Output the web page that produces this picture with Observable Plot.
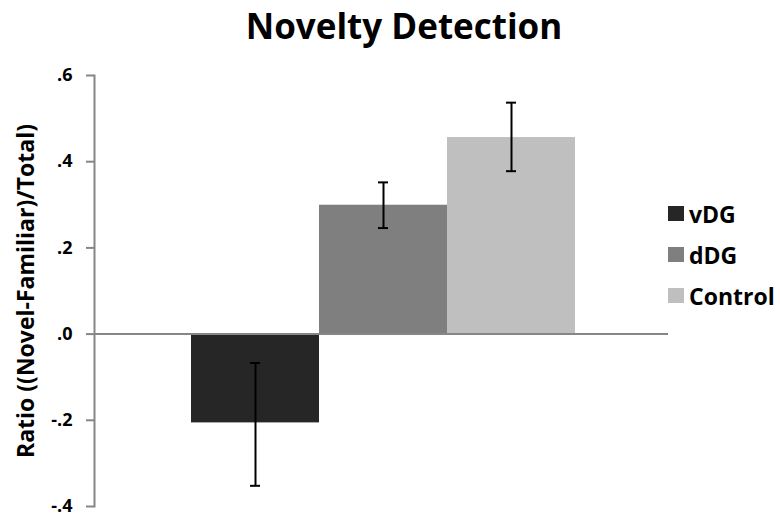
<!DOCTYPE html>
<html>
<head>
<meta charset="utf-8">
<script src="https://cdn.jsdelivr.net/npm/d3@7"></script>
<script src="https://cdn.jsdelivr.net/npm/@observablehq/plot@0.6"></script>
<style>
  body { margin: 0; background: #fff; font-family: "Open Sans", sans-serif; }
  #wrap { position: relative; width: 780px; height: 519px; }
  #title { position: absolute; left: 0; width: 808px; top: 2px; text-align: center; font-size: 35px; font-weight: bold; color: #000; }
  #legend { position: absolute; left: 668px; top: 193px; }
  .item { display: flex; align-items: center; height: 41px; font-size: 23px; font-weight: bold; color: #000; }
  .sw { width: 16px; height: 15px; margin-right: 5px; }
</style>
</head>
<body>
<div id="wrap">
  <div id="chart"></div>
  <div id="title">Novelty Detection</div>
  <div id="legend"></div>
</div>
<script>
const groups = ["vDG", "dDG", "Control"];
const means = [-0.206, 0.299, 0.456];
const errLow = [-0.352, 0.246, 0.378];
const errHigh = [-0.067, 0.352, 0.537];
const colors = ["#262626", "#7f7f7f", "#bfbfbf"];
const yTicks = [-0.4, -0.2, 0, 0.2, 0.4, 0.6];
const yLabel = "Ratio ((Novel-Familiar)/Total)";

const data = groups.map((g, i) => ({group: g, mean: means[i], lo: errLow[i], hi: errHigh[i], color: colors[i]}));
const fmt = d => d.toFixed(1).replace("0.", ".");

const chart = Plot.plot({
  width: 780,
  height: 519,
  marginTop: 75,
  marginBottom: 13,
  marginLeft: 94,
  marginRight: 112,
  x: {domain: groups, range: [191, 575], padding: 0, axis: null},
  y: {domain: [-0.4, 0.6], ticks: yTicks, axis: null},
  style: {fontFamily: "Open Sans, sans-serif"},
  marks: [
    Plot.barY(data, {x: "group", y: "mean", fill: "color"}),
    Plot.ruleY([0], {stroke: "#868686", strokeWidth: 2}),
    Plot.frame({anchor: "left", stroke: "#868686", strokeWidth: 2}),
    Plot.axisY(yTicks, {tickSize: 8, tickFormat: () => "", color: "#868686", strokeWidth: 2, label: null}),
    Plot.axisY(yTicks, {tickSize: 0, tickPadding: 22, tickFormat: fmt, color: "#000", fontSize: 18, fontWeight: "bold", label: null}),
    Plot.ruleX(data, {x: "group", y1: "lo", y2: "hi", stroke: "#000", strokeWidth: 2}),
    Plot.tickY(data, {x: "group", y: "lo", stroke: "#000", strokeWidth: 2, insetLeft: 59, insetRight: 59}),
    Plot.tickY(data, {x: "group", y: "hi", stroke: "#000", strokeWidth: 2, insetLeft: 59, insetRight: 59}),
    Plot.text([yLabel], {frameAnchor: "left", dx: -68, rotate: -90, textAnchor: "middle", fontSize: 23, fontWeight: "bold", fill: "#000"})
  ]
});
document.getElementById("chart").appendChild(chart);

const legend = document.getElementById("legend");
groups.forEach((g, i) => {
  const item = document.createElement("div");
  item.className = "item";
  const sw = document.createElement("div");
  sw.className = "sw";
  sw.style.background = colors[i];
  item.appendChild(sw);
  item.appendChild(document.createTextNode(g));
  legend.appendChild(item);
});
</script>
</body>
</html>
